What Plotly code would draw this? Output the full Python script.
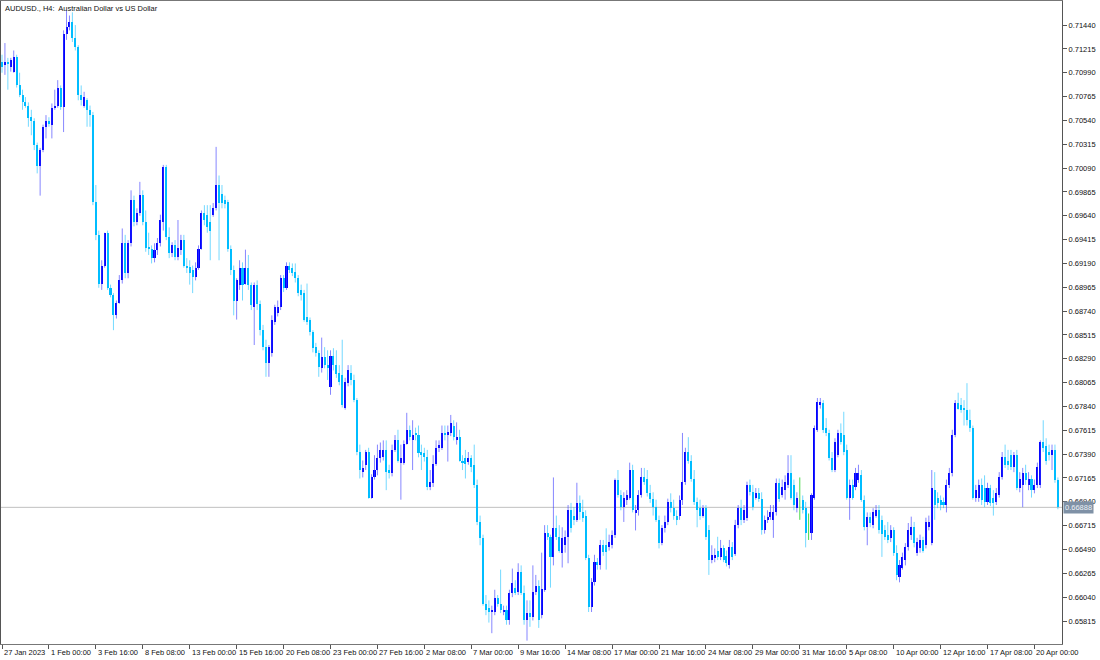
import numpy as np
import plotly.graph_objects as go

TITLE = "AUDUSD., H4:  Australian Dollar vs US Dollar"

# H4 candles, prices in pips (1 pip = 0.0001)
OPEN = [
    7109, 7106, 7109, 7104, 7100, 7114, 7087, 7078, 7071, 7068,
    7057, 7053, 7031, 7011, 7026, 7048, 7053, 7050, 7066, 7068,
    7085, 7067, 7136, 7142, 7147, 7132, 7123, 7078, 7068, 7073,
    7064, 7059, 6977, 6946, 6900, 6917, 6948, 6896, 6889, 6870,
    6882, 6903, 6938, 6910, 6938, 6979, 6958, 6967, 6984, 6958,
    6934, 6933, 6924, 6932, 6938, 6958, 7010, 6944, 6929, 6936,
    6925, 6932, 6941, 6917, 6916, 6913, 6906, 6915, 6933, 6967,
    6965, 6958, 6965, 6971, 6993, 6985, 6979, 6977, 6933, 6913,
    6884, 6899, 6915, 6900, 6915, 6899, 6878, 6899, 6881, 6856,
    6840, 6825, 6834, 6864, 6872, 6878, 6905, 6896, 6917, 6915,
    6911, 6905, 6894, 6891, 6868, 6866, 6854, 6840, 6834, 6820,
    6831, 6823, 6802, 6832, 6823, 6816, 6814, 6783, 6806, 6816,
    6809, 6790, 6741, 6722, 6729, 6741, 6698, 6717, 6724, 6735,
    6736, 6743, 6724, 6721, 6743, 6752, 6731, 6731, 6749, 6762,
    6752, 6759, 6757, 6741, 6740, 6736, 6708, 6712, 6730, 6745,
    6745, 6759, 6757, 6759, 6766, 6752, 6755, 6733, 6735, 6732,
    6735, 6729, 6710, 6675, 6660, 6598, 6594, 6590, 6590, 6603,
    6598, 6590, 6592, 6582, 6608, 6613, 6609, 6628, 6608, 6582,
    6589, 6585, 6609, 6615, 6587, 6611, 6665, 6661, 6642, 6669,
    6661, 6646, 6653, 6661, 6686, 6681, 6677, 6693, 6684, 6681,
    6641, 6595, 6618, 6637, 6634, 6653, 6653, 6651, 6653, 6663,
    6715, 6700, 6689, 6696, 6698, 6724, 6683, 6686, 6700, 6717,
    6716, 6702, 6697, 6689, 6677, 6655, 6669, 6675, 6694, 6688,
    6681, 6681, 6696, 6713, 6741, 6733, 6716, 6694, 6688, 6681,
    6688, 6667, 6639, 6641, 6648, 6642, 6650, 6643, 6634, 6651,
    6645, 6672, 6688, 6677, 6679, 6710, 6703, 6698, 6702, 6697,
    6667, 6677, 6680, 6677, 6684, 6712, 6700, 6705, 6710, 6721,
    6710, 6688, 6696, 6696, 6688, 6665, 6665, 6698, 6762, 6785,
    6787, 6764, 6759, 6735, 6724, 6738, 6759, 6757, 6743, 6698,
    6710, 6708, 6715, 6719, 6696, 6670, 6680, 6672, 6681, 6686,
    6677, 6667, 6663, 6660, 6667, 6646, 6623, 6632, 6639, 6651,
    6663, 6670, 6646, 6650, 6658, 6653, 6670, 6655, 6705, 6698,
    6696, 6694, 6691, 6710, 6721, 6757, 6787, 6785, 6783, 6781,
    6771, 6764, 6698, 6698, 6710, 6707, 6694, 6707, 6698, 6694,
    6700, 6717, 6736, 6733, 6738, 6727, 6738, 6707, 6710, 6721,
    6710, 6716, 6705, 6710, 6710, 6750, 6747, 6741, 6738, 6743, 6715,
]
HIGH = [
    7116, 7127, 7113, 7113, 7120, 7116, 7099, 7083, 7076, 7071,
    7064, 7056, 7033, 7028, 7050, 7059, 7057, 7070, 7083, 7092,
    7087, 7139, 7158, 7153, 7156, 7144, 7125, 7087, 7081, 7075,
    7068, 7062, 6993, 6950, 6922, 6948, 6950, 6899, 6891, 6884,
    6908, 6952, 6946, 6941, 6988, 6983, 6971, 6996, 6988, 6969,
    6948, 6936, 6938, 6943, 6965, 7012, 7012, 6953, 6939, 6941,
    6960, 6946, 6946, 6924, 6922, 6917, 6920, 6936, 6969, 6974,
    6974, 6974, 6976, 7029, 7002, 6993, 6983, 6979, 6936, 6917,
    6905, 6922, 6920, 6932, 6927, 6901, 6901, 6903, 6884, 6861,
    6847, 6842, 6870, 6880, 6884, 6908, 6908, 6920, 6920, 6919,
    6919, 6908, 6899, 6894, 6900, 6868, 6856, 6844, 6837, 6849,
    6840, 6837, 6837, 6839, 6837, 6823, 6847, 6811, 6823, 6823,
    6814, 6792, 6748, 6733, 6743, 6745, 6720, 6738, 6748, 6750,
    6752, 6752, 6729, 6748, 6757, 6762, 6748, 6752, 6778, 6766,
    6771, 6764, 6766, 6748, 6745, 6743, 6724, 6738, 6752, 6752,
    6766, 6766, 6766, 6776, 6771, 6769, 6762, 6738, 6743, 6741,
    6738, 6748, 6715, 6681, 6663, 6606, 6601, 6596, 6611, 6606,
    6630, 6596, 6596, 6611, 6631, 6620, 6636, 6634, 6615, 6601,
    6601, 6634, 6625, 6620, 6646, 6672, 6672, 6663, 6717, 6681,
    6672, 6670, 6667, 6691, 6693, 6689, 6712, 6700, 6696, 6686,
    6644, 6622, 6644, 6641, 6658, 6658, 6669, 6663, 6667, 6716,
    6724, 6705, 6703, 6705, 6731, 6729, 6691, 6705, 6726, 6726,
    6724, 6710, 6703, 6696, 6681, 6672, 6681, 6697, 6702, 6696,
    6686, 6700, 6759, 6745, 6755, 6738, 6724, 6698, 6696, 6691,
    6691, 6672, 6653, 6650, 6661, 6658, 6653, 6648, 6658, 6656,
    6677, 6691, 6696, 6691, 6713, 6715, 6710, 6707, 6707, 6703,
    6681, 6686, 6691, 6691, 6716, 6716, 6715, 6719, 6738, 6738,
    6715, 6703, 6717, 6700, 6694, 6683, 6702, 6766, 6792, 6792,
    6790, 6773, 6762, 6741, 6754, 6762, 6768, 6779, 6748, 6715,
    6715, 6726, 6729, 6724, 6700, 6684, 6684, 6688, 6691, 6691,
    6681, 6672, 6675, 6672, 6670, 6653, 6639, 6646, 6655, 6674,
    6680, 6675, 6660, 6663, 6661, 6679, 6681, 6724, 6722, 6703,
    6700, 6698, 6715, 6726, 6762, 6790, 6797, 6792, 6790, 6806,
    6781, 6766, 6710, 6715, 6716, 6719, 6712, 6710, 6705, 6707,
    6722, 6741, 6748, 6743, 6743, 6741, 6743, 6722, 6726, 6729,
    6722, 6719, 6715, 6731, 6752, 6771, 6754, 6748, 6748, 6748, 6717,
]
LOW = [
    7099, 7097, 7083, 7100, 7099, 7085, 7076, 7064, 7066, 7048,
    7040, 7026, 7004, 6983, 7024, 7037, 7048, 7037, 7064, 7066,
    7064, 7043, 7130, 7139, 7128, 7120, 7073, 7068, 7066, 7048,
    7048, 6974, 6941, 6896, 6894, 6915, 6894, 6887, 6856, 6867,
    6881, 6900, 6905, 6905, 6935, 6954, 6955, 6964, 6955, 6930,
    6927, 6919, 6920, 6927, 6935, 6950, 6941, 6924, 6925, 6922,
    6922, 6927, 6915, 6910, 6899, 6891, 6903, 6913, 6932, 6955,
    6948, 6922, 6963, 6969, 6922, 6971, 6971, 6930, 6908, 6870,
    6866, 6894, 6884, 6899, 6894, 6875, 6842, 6875, 6851, 6837,
    6812, 6812, 6831, 6861, 6869, 6875, 6892, 6894, 6910, 6907,
    6901, 6888, 6884, 6864, 6861, 6851, 6835, 6831, 6812, 6816,
    6820, 6809, 6795, 6818, 6811, 6804, 6783, 6781, 6803, 6804,
    6788, 6738, 6716, 6717, 6724, 6697, 6697, 6715, 6719, 6731,
    6733, 6705, 6716, 6718, 6741, 6731, 6696, 6729, 6748, 6752,
    6724, 6752, 6736, 6724, 6732, 6705, 6705, 6708, 6728, 6741,
    6743, 6752, 6732, 6756, 6752, 6748, 6732, 6724, 6716, 6729,
    6722, 6707, 6672, 6653, 6596, 6587, 6580, 6570, 6587, 6595,
    6589, 6587, 6578, 6578, 6604, 6606, 6606, 6606, 6578, 6563,
    6576, 6582, 6606, 6575, 6584, 6609, 6658, 6613, 6634, 6658,
    6646, 6632, 6646, 6636, 6665, 6672, 6675, 6677, 6675, 6639,
    6590, 6590, 6615, 6630, 6630, 6643, 6630, 6648, 6650, 6660,
    6698, 6686, 6675, 6691, 6696, 6684, 6667, 6681, 6698, 6710,
    6699, 6693, 6681, 6675, 6650, 6653, 6665, 6672, 6684, 6677,
    6672, 6677, 6691, 6710, 6730, 6713, 6691, 6670, 6677, 6679,
    6658, 6625, 6636, 6637, 6639, 6639, 6637, 6633, 6631, 6639,
    6643, 6669, 6672, 6674, 6676, 6700, 6686, 6696, 6694, 6663,
    6664, 6674, 6677, 6660, 6681, 6694, 6698, 6696, 6707, 6696,
    6686, 6684, 6677, 6683, 6651, 6658, 6658, 6696, 6760, 6782,
    6759, 6756, 6733, 6722, 6722, 6736, 6748, 6738, 6696, 6677,
    6696, 6705, 6712, 6694, 6667, 6653, 6670, 6669, 6679, 6664,
    6642, 6658, 6655, 6656, 6643, 6620, 6618, 6630, 6634, 6648,
    6658, 6651, 6643, 6646, 6646, 6650, 6667, 6653, 6677, 6688,
    6686, 6688, 6684, 6707, 6718, 6755, 6781, 6778, 6766, 6766,
    6760, 6696, 6694, 6694, 6691, 6689, 6691, 6690, 6681, 6691,
    6698, 6715, 6726, 6724, 6724, 6722, 6705, 6703, 6689, 6710,
    6705, 6698, 6702, 6707, 6707, 6741, 6729, 6733, 6724, 6712, 6687,
]
CLOSE = [
    7104, 7109, 7107, 7111, 7114, 7087, 7078, 7071, 7068, 7056,
    7053, 7031, 7011, 7026, 7048, 7053, 7051, 7066, 7068, 7085,
    7067, 7136, 7142, 7147, 7132, 7123, 7078, 7073, 7076, 7064,
    7059, 6977, 6946, 6900, 6917, 6948, 6896, 6889, 6870, 6882,
    6903, 6938, 6910, 6938, 6979, 6958, 6967, 6984, 6958, 6934,
    6933, 6924, 6932, 6938, 6960, 7010, 6944, 6929, 6936, 6925,
    6934, 6941, 6917, 6915, 6910, 6906, 6915, 6933, 6967, 6960,
    6953, 6950, 6971, 6993, 6976, 6976, 6975, 6933, 6913, 6884,
    6903, 6915, 6899, 6915, 6899, 6880, 6899, 6881, 6856, 6840,
    6825, 6840, 6866, 6878, 6878, 6905, 6896, 6917, 6913, 6910,
    6905, 6891, 6889, 6866, 6864, 6854, 6839, 6834, 6821, 6831,
    6823, 6820, 6832, 6823, 6815, 6807, 6785, 6807, 6818, 6809,
    6790, 6741, 6724, 6726, 6741, 6698, 6717, 6724, 6735, 6743,
    6743, 6722, 6721, 6743, 6752, 6733, 6735, 6749, 6762, 6755,
    6757, 6757, 6740, 6738, 6736, 6708, 6713, 6730, 6745, 6748,
    6759, 6757, 6760, 6768, 6755, 6755, 6733, 6731, 6730, 6735,
    6727, 6710, 6675, 6660, 6598, 6592, 6590, 6592, 6603, 6598,
    6592, 6592, 6582, 6608, 6617, 6608, 6628, 6608, 6582, 6589,
    6585, 6609, 6615, 6582, 6612, 6665, 6661, 6642, 6669, 6661,
    6648, 6660, 6661, 6686, 6669, 6677, 6693, 6684, 6679, 6641,
    6595, 6618, 6637, 6634, 6653, 6647, 6647, 6656, 6663, 6715,
    6700, 6689, 6698, 6700, 6724, 6686, 6686, 6700, 6717, 6713,
    6702, 6697, 6689, 6677, 6655, 6669, 6675, 6694, 6688, 6681,
    6677, 6696, 6713, 6741, 6733, 6716, 6694, 6686, 6681, 6688,
    6661, 6639, 6644, 6644, 6642, 6650, 6639, 6636, 6651, 6642,
    6672, 6688, 6677, 6686, 6710, 6703, 6689, 6702, 6697, 6667,
    6677, 6680, 6684, 6684, 6712, 6697, 6708, 6713, 6721, 6698,
    6691, 6698, 6696, 6686, 6665, 6665, 6700, 6764, 6788, 6788,
    6762, 6759, 6735, 6724, 6750, 6759, 6750, 6741, 6698, 6710,
    6698, 6721, 6721, 6696, 6670, 6680, 6674, 6684, 6686, 6667,
    6664, 6661, 6658, 6667, 6646, 6625, 6634, 6642, 6651, 6667,
    6670, 6655, 6656, 6658, 6648, 6675, 6675, 6707, 6691, 6693,
    6691, 6691, 6710, 6721, 6757, 6787, 6782, 6781, 6781, 6771,
    6764, 6698, 6705, 6710, 6696, 6694, 6707, 6693, 6693, 6702,
    6717, 6736, 6729, 6729, 6727, 6738, 6707, 6716, 6721, 6715,
    6716, 6705, 6710, 6727, 6750, 6745, 6733, 6738, 6743, 6715, 6689,
]
CURRENT_PRICE = 0.66888

DATE_LABELS = [
    "27 Jan 2023", "1 Feb 00:00", "3 Feb 16:00", "8 Feb 08:00", "13 Feb 00:00",
    "15 Feb 16:00", "20 Feb 08:00", "23 Feb 00:00", "27 Feb 16:00", "2 Mar 08:00",
    "7 Mar 00:00", "9 Mar 16:00", "14 Mar 08:00", "17 Mar 00:00", "21 Mar 16:00",
    "24 Mar 08:00", "29 Mar 00:00", "31 Mar 16:00", "5 Apr 08:00", "10 Apr 00:00",
    "12 Apr 16:00", "17 Apr 08:00", "20 Apr 00:00",
]
BARS_PER_LABEL = 16
PRICE_TICK_START = 0.65815
PRICE_TICK_STEP = 0.00225
PRICE_TICK_COUNT = 26

n = min(len(OPEN), len(HIGH), len(LOW), len(CLOSE))
o = np.array(OPEN[:n]) / 1e4
h = np.array(HIGH[:n]) / 1e4
l = np.array(LOW[:n]) / 1e4
c = np.array(CLOSE[:n]) / 1e4
idx = np.arange(n)

BULL = "#0000ff"
BEAR = "#00bfff"
DOJI = "#22dd22"
BULL_WICK = "rgba(60,60,255,0.62)"
BEAR_WICK = "rgba(0,185,255,0.55)"
DOJI_WICK = "rgba(30,210,30,0.8)"

fig = go.Figure()

classes = [
    (c > o, BULL, BULL_WICK),
    (c < o, BEAR, BEAR_WICK),
    (c == o, DOJI, DOJI_WICK),
]
for mask, body_col, wick_col in classes:
    xs, ys = [], []
    for i in idx[mask]:
        xs += [i, i, None]
        ys += [l[i], h[i], None]
    fig.add_trace(go.Scatter(x=xs, y=ys, mode="lines",
                             line=dict(color=wick_col, width=1),
                             hoverinfo="skip", showlegend=False))
for mask, body_col, wick_col in classes:
    sel = idx[mask]
    fig.add_trace(go.Bar(
        x=sel, y=np.abs(c[sel] - o[sel]), base=np.minimum(o[sel], c[sel]),
        width=0.7, marker=dict(color=body_col, line=dict(width=0)),
        showlegend=False, hoverinfo="skip"))

tick_vals = [PRICE_TICK_START + k * PRICE_TICK_STEP for k in range(PRICE_TICK_COUNT)]
tick_text = [f"{v:.5f}" for v in tick_vals]

FONT = "Liberation Sans, Arial, sans-serif"
TXT = "#111111"

fig.update_layout(
    width=1100, height=660,
    margin=dict(l=1, r=38, t=1, b=16),
    paper_bgcolor="white", plot_bgcolor="white",
    barmode="overlay", bargap=0,
    font=dict(family=FONT, size=7.5, color=TXT),
    showlegend=False,
    xaxis=dict(
        range=[-0.34, 361.4], showgrid=False, zeroline=False,
        showline=True, linecolor="#777777", linewidth=1, mirror=True,
        tickvals=list(range(0, n, BARS_PER_LABEL))[:len(DATE_LABELS)],
        showticklabels=False, ticks="outside", ticklen=4, tickcolor="#555555",
    ),
    yaxis=dict(
        side="right", range=[0.65598, 0.71667], showgrid=False, zeroline=False,
        showline=True, linecolor="#555555", linewidth=1, mirror=True,
        tickvals=tick_vals, ticktext=tick_text,
        ticks="outside", ticklen=4, tickcolor="#555555",
        tickfont=dict(family=FONT, size=7.5, color=TXT),
    ),
)

fig.add_shape(type="line", xref="paper", x0=0, x1=1, yref="y",
              y0=CURRENT_PRICE, y1=CURRENT_PRICE,
              line=dict(color="#c0c0c0", width=1), layer="below")

fig.add_annotation(xref="paper", x=1, y=CURRENT_PRICE, yref="y",
                   text=f"{CURRENT_PRICE:.5f}", showarrow=False,
                   xanchor="left", yanchor="middle", xshift=1,
                   bgcolor="#7f91a6", borderpad=1,
                   font=dict(family=FONT, size=7.5, color="#eef2f6"))

for k, lab in enumerate(DATE_LABELS):
    fig.add_annotation(x=k * BARS_PER_LABEL, xref="x", y=0, yref="paper",
                       text=lab, showarrow=False, xanchor="left", yanchor="top",
                       xshift=0, yshift=-2,
                       font=dict(family=FONT, size=7.5, color=TXT))

fig.add_annotation(xref="paper", yref="paper", x=0, y=1, text=TITLE,
                   showarrow=False, xanchor="left", yanchor="top",
                   xshift=2, yshift=-1,
                   font=dict(family=FONT, size=7.5, color=TXT))

fig.write_html("out.html",
               config={"displayModeBar": False},
               post_script="document.body.style.margin='0px';"
                           "document.body.style.overflow='hidden';")
